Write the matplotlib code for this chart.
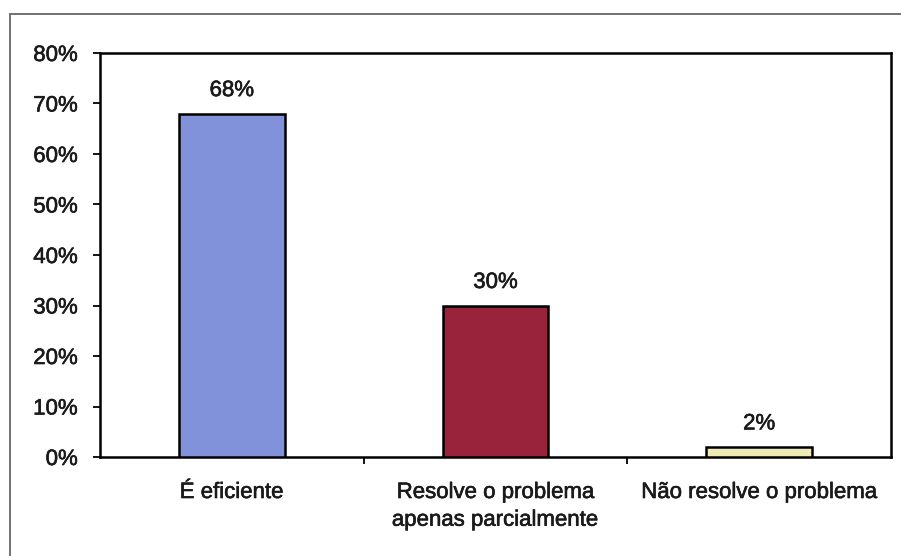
import matplotlib
matplotlib.use("Agg")
import matplotlib.pyplot as plt
import matplotlib.patheffects as pe
from matplotlib.patches import Rectangle
from matplotlib.ticker import FixedLocator, FuncFormatter

# Survey answers and their shares (percent)
categories = ["É eficiente", "Resolve o problema\napenas parcialmente", "Não resolve o problema"]
values = [68, 30, 2]
bar_colors = ["#8192da", "#98233a", "#eeecb0"]
y_ticks = [0, 10, 20, 30, 40, 50, 60, 70, 80]

plt.rcParams["font.family"] = ["Liberation Sans", "DejaVu Sans"]

TEXT_COLOR = "#1a1a1a"
FS = 16
thick = [pe.withStroke(linewidth=0.45, foreground=TEXT_COLOR)]

W, H = 901, 556
fig = plt.figure(figsize=(W / 100, H / 100), dpi=100)
fig.patch.set_facecolor("white")

# Outer chart frame (runs off the right and bottom edges)
fig.patches.append(Rectangle((10 / W, -0.05), 1.0, (H - 14) / H + 0.05,
                             transform=fig.transFigure, fill=False,
                             edgecolor="#666666", linewidth=1.3, zorder=0))

left, right, top, bottom = 100, 891, 53, 457
ax = fig.add_axes([left / W, (H - bottom) / H, (right - left) / W, (bottom - top) / H])

x = list(range(len(categories)))
ax.bar(x, values, width=0.4, color=bar_colors, edgecolor="black", linewidth=1.8, zorder=3)

for xi, v in zip(x, values):
    ax.annotate(f"{v}%", (xi, v), xytext=(0, 9), textcoords="offset points",
                ha="center", va="bottom", fontsize=FS, color=TEXT_COLOR,
                path_effects=thick)

ax.set_xlim(-0.5, len(categories) - 0.5)
ax.set_ylim(0, 80)
ax.set_yticks(y_ticks)
ax.yaxis.set_major_formatter(FuncFormatter(lambda v, p: f"{v:.0f}%"))

ax.set_xticks(x)
ax.set_xticklabels(categories, fontsize=FS, linespacing=1.42, color=TEXT_COLOR)
ax.xaxis.set_minor_locator(FixedLocator([0.5, 1.5]))
ax.tick_params(axis="x", which="major", length=0, pad=18)
ax.tick_params(axis="x", which="minor", length=5, width=1.3, direction="out")
ax.tick_params(axis="y", length=5, width=1.3, direction="out", pad=11,
               labelsize=FS, labelcolor=TEXT_COLOR)

for lbl in ax.get_xticklabels() + ax.get_yticklabels():
    lbl.set_path_effects(thick)

for s in ax.spines.values():
    s.set_linewidth(1.8)
    s.set_color("black")

fig.savefig("out.png", dpi=100)
